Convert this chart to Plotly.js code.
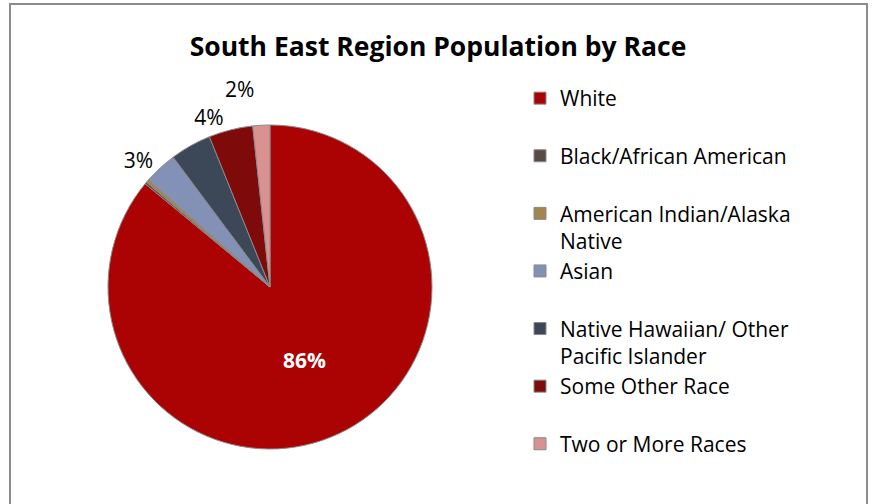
<!DOCTYPE html>
<html>
<head>
<meta charset="utf-8">
<script src="https://cdn.plot.ly/plotly-3.0.1.min.js"></script>
<style>html,body{margin:0;padding:0;background:#fff;}#chart{width:874px;height:504px;}path.textline{display:none !important;}</style>
</head>
<body>
<div id="chart"></div>
<script>
// Data
const categories = ["White", "Black/African American", "American Indian/Alaska Native", "Asian", "Native Hawaiian/ Other Pacific Islander", "Some Other Race", "Two or More Races"];
const legendNames = ["White<br> ", "Black/African American<br> ", "American Indian/Alaska<br>Native", "Asian<br> ", "Native Hawaiian/ Other<br>Pacific Islander", "Some Other Race<br> ", "Two or More Races"];
const values = [86.0, 0.2, 0.3, 3.3, 4.1, 4.4, 1.7];
const shownLabels = ["86%", "", "", "3%", "", "4%", "2%"];
const colors = ["#ab0303", "#5b4a44", "#a4844f", "#8391b6", "#3c4757", "#7e0a0a", "#d99191"];

const trace = {
  type: "pie",
  labels: legendNames,
  values: values,
  text: shownLabels,
  textinfo: "text",
  textposition: ["inside", "outside", "outside", "outside", "outside", "outside", "outside"],
  insidetextfont: {family: "Open Sans, sans-serif", size: 21, color: "#ffffff", weight: "bold"},
  outsidetextfont: {family: "Open Sans, sans-serif", size: 21, color: "#000000"},
  sort: false,
  direction: "clockwise",
  rotation: 0,
  marker: {colors: colors, line: {color: "#8a8a8a", width: 1}},
  domain: {x: [108/874, 432/874], y: [1 - 449/504, 1 - 125/504]},
  hoverinfo: "label+percent"
};

const layout = {
  width: 874,
  height: 504,
  margin: {l: 0, r: 0, t: 0, b: 0},
  paper_bgcolor: "#ffffff",
  title: {
    text: "<b>South East Region Population by Race</b>",
    font: {family: "Open Sans, sans-serif", size: 26.5, color: "#000000"},
    x: 438/874, xanchor: "center", y: 1 - 47/504, yanchor: "middle"
  },
  showlegend: true,
  legend: {
    x: 520/874, xanchor: "left",
    y: 1 - 78/504, yanchor: "top",
    valign: "top",
    font: {family: "Open Sans, sans-serif", size: 21, color: "#000000"},
    itemclick: false,
    tracegroupgap: 0
  },
  shapes: [{
    type: "rect", xref: "paper", yref: "paper",
    x0: 10/874, x1: 867/874, y0: -0.1, y1: 1 - 4/504,
    line: {color: "#8c8c8c", width: 2}, fillcolor: "rgba(0,0,0,0)"
  }]
};

Plotly.newPlot("chart", [trace], layout, {displayModeBar: false, staticPlot: true});
</script>
</body>
</html>
